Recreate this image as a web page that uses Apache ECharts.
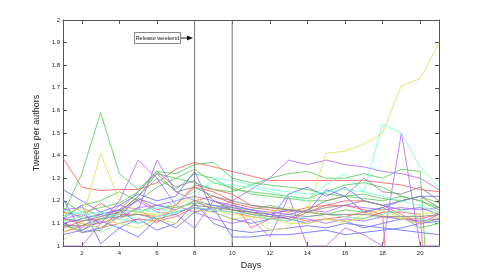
<!DOCTYPE html>
<html><head><meta charset="utf-8">
<script src="https://cdn.jsdelivr.net/npm/echarts@6/dist/echarts.min.js"></script>
<style>html,body{margin:0;padding:0;background:#fff}#c{width:485px;height:277px}</style>
</head><body><div id="c"></div>
<script>
const days = [1,2,3,4,5,6,7,8,9,10,11,12,13,14,15,16,17,18,19,20,21];
const xTicks = [2,4,6,8,10,12,14,16,18,20];
const releaseDays = [8,10];

const R1 = [1.39,1.26,1.245,1.25,1.25,1.28,1.34,1.37,1.35,1.33,1.31,1.29,1.29,1.29,1.29,1.29,1.29,1.28,1.27,1.25,1.24];
const R2 = [1.15,1.13,1.19,1.14,1.21,1.16,1.18,1.27,1.25,1.23,1.18,1.17,1.16,1.15,1.14,1.13,1.15,1.13,1.12,1.12,1.14];
const R3 = [1.06,1.09,1.10,1.13,1.17,1.10,1.18,1.26,1.24,1.20,1.08,1.12,1.11,1.15,1.18,1.20,1.20,1.18,1.14,1.10,1.12];
const R4 = [1.08,1.11,1.12,1.14,1.14,1.13,1.16,1.20,1.22,1.19,1.17,1.16,1.15,1.17,1.18,1.18,1.16,1.14,0,0,0];
const R5 = [1.12,1.10,1.08,1.10,1.12,1.11,1.13,1.17,1.16,1.15,1.13,1.12,1.13,1.11,1.12,1.13,1.12,1.15,1.15,1.14,0];
const G1 = [1.14,1.32,1.59,1.32,1.25,1.33,1.32,1.36,1.37,1.30,1.28,1.27,1.26,1.25,1.23,1.22,1.21,1.20,1.22,1.20,1.16];
const G2 = [1.13,1.18,1.20,1.24,1.20,1.26,1.30,1.34,1.28,1.26,1.23,1.22,1.21,1.20,1.20,1.22,1.23,1.21,1.20,1.22,1.19];
const G3 = [1.20,1.15,1.17,1.19,1.24,1.32,1.30,1.28,1.25,1.24,1.27,1.30,1.32,1.33,1.30,1.30,1.32,1.30,1.34,1.33,0];
const G4 = [1.17,1.12,1.14,1.16,1.15,1.18,1.17,1.19,1.18,1.17,1.16,1.18,1.16,1.15,1.14,1.16,1.15,1.17,1.13,1.08,1.10];
const G5 = [1.09,1.07,1.12,1.15,1.22,1.30,1.25,1.32,1.30,1.25,1.24,1.23,1.22,1.21,1.24,1.27,1.28,1.26,1.22,1.20,1.17];
const B1 = [1.25,1.20,1.15,1.18,1.23,1.20,1.22,1.33,1.15,1.12,1.10,1.12,1.23,1.26,1.22,1.26,1.20,1.18,1.16,1.17,1.14];
const B2 = [1.12,1.18,1.01,1.08,1.12,1.07,1.10,1.19,1.10,1.07,1.06,1.07,1.08,1.09,1.08,1.10,1.09,1.08,1.07,1.06,1.05];
const B3 = [1.21,1.06,1.08,1.13,1.21,1.18,1.16,1.20,1.18,1.16,1.15,1.14,1.12,1.10,1.12,1.11,1.08,1.10,1.12,1.11,1.12];
const B4 = [1.10,1.12,1.14,1.16,1.10,1.13,1.15,1.17,1.15,1.18,1.16,1.14,1.16,1.15,1.25,1.22,1.15,1.17,1.20,1.22,1.22];
const B5 = [1.05,1.07,1.11,1.08,1.04,1.12,1.08,1.15,1.17,1.04,1.04,1.05,1.05,1.06,1.07,1.05,1.06,1.07,1.08,1.10,1.11];
const P1 = [1.00,1.00,1.10,1.20,1.38,1.30,1.18,1.15,1.12,1.10,1.12,1.04,1.22,1.00,1.00,1.08,1.05,1.00,1.50,1.00,1.00];
const P2 = [1.12,1.14,1.10,1.18,1.16,1.38,1.24,1.20,1.16,1.20,1.25,1.30,1.38,1.36,1.38,1.36,1.35,1.33,1.32,1.30,1.25];
const P3 = [1.16,1.17,1.13,1.16,1.20,1.15,1.14,1.08,1.20,1.18,1.16,1.15,1.14,1.16,1.15,1.18,1.17,1.16,1.17,1.16,1.17];
const P4 = [1.10,1.08,1.15,1.12,1.17,1.18,1.20,1.22,1.20,1.17,1.15,1.14,1.13,1.12,1.10,1.12,1.11,1.13,1.12,1.10,1.14];
const Y1 = [1.02,1.11,1.41,1.20,1.15,1.14,1.18,1.22,1.16,1.14,1.13,1.12,1.10,1.10,1.12,1.11,1.12,1.14,1.12,1.10,1.13];
const Y2 = [1.06,1.10,1.08,1.12,1.15,1.13,1.16,1.20,1.17,1.16,1.14,1.15,1.17,1.15,1.41,1.42,1.45,1.50,1.71,1.74,1.90];
const Y3 = [1.14,1.17,1.12,1.10,1.08,1.12,1.10,1.16,1.15,1.12,1.13,1.07,1.08,1.18,1.12,1.10,1.14,1.16,1.12,1.14,1.15];
const C1 = [1.13,1.15,1.12,1.14,1.16,1.15,1.20,1.24,1.28,1.27,1.26,1.24,1.22,1.20,1.27,1.32,1.24,1.54,1.50,1.35,1.26];
const C2 = [1.11,1.13,1.06,1.10,1.15,1.17,1.14,1.22,1.30,1.29,1.27,1.25,1.24,1.23,1.24,1.25,1.24,1.22,1.20,1.18,1.15];
const C3 = [1.16,1.14,1.15,1.12,1.10,1.13,1.15,1.17,1.16,1.15,1.14,1.12,1.11,1.13,1.14,1.13,1.12,1.14,1.16,1.12,1.10];
const K1 = [1.10,1.06,1.07,1.16,1.24,1.33,1.26,1.29,1.20,1.16,1.15,1.13,1.12,1.16,1.20,1.22,1.30,1.24,1.23,1.26,1.20];
const K2 = [1.12,1.11,1.13,1.15,1.22,1.32,1.24,1.26,1.22,1.20,1.18,1.17,1.16,1.15,1.17,1.18,1.20,1.18,1.20,1.22,1.17];
const K3 = [1.09,1.09,1.12,1.13,1.14,1.12,1.14,1.18,1.17,1.16,1.14,1.13,1.14,1.13,1.14,1.14,1.14,1.13,1.13,1.13,1.14];

const groups = [
  ['#ff6262', [R1,R2,R3,R4,R5]],
  ['#5ccc5c', [G1,G2,G3,G4,G5]],
  ['#6b70ff', [B1,B2,B3,B4,B5]],
  ['#b46bff', [P1,P2,P3,P4]],
  ['#dde25a', [Y1,Y2,Y3]],
  ['#78ffd2', [C1,C2,C3]],
  ['#8a8a8a', [K1,K2,K3]]
];

const series = [];
groups.forEach(([color, arrs]) => {
  arrs.forEach(a => {
    series.push({
      type: 'line', symbol: 'none', clip: true, silent: true,
      data: days.map((d, i) => [d, a[i]]),
      lineStyle: { color: color, width: 1, opacity: 0.85 },
      z: 2
    });
  });
});
releaseDays.forEach(d => {
  series.push({
    type: 'line', symbol: 'none', silent: true,
    data: [[d, 1], [d, 2]],
    lineStyle: { color: '#777', width: 1 },
    z: 3
  });
});

const font = 'Liberation Sans, Arial, sans-serif';
const tickStyle = { inside: true, length: 4, lineStyle: { color: '#555' } };
const chart = echarts.init(document.getElementById('c'));
chart.setOption({
  animation: false,
  grid: { left: 63, right: 46, top: 20, bottom: 31 },
  xAxis: [{
    type: 'value', min: 1, max: 21, position: 'bottom',
    name: 'Days', nameLocation: 'middle', nameGap: 9,
    nameTextStyle: { fontFamily: font, fontSize: 9, color: '#222' },
    axisLine: { lineStyle: { color: '#555' } },
    axisTick: Object.assign({ customValues: xTicks }, tickStyle),
    axisLabel: { customValues: xTicks, fontFamily: font, fontSize: 6, color: '#222', margin: 4 },
    splitLine: { show: false }
  }, {
    type: 'value', min: 1, max: 21, position: 'top',
    axisLine: { lineStyle: { color: '#555' } },
    axisTick: Object.assign({ customValues: xTicks }, tickStyle),
    axisLabel: { show: false }, splitLine: { show: false }
  }],
  yAxis: [{
    type: 'value', min: 1, max: 2, interval: 0.1, position: 'left',
    name: 'Tweets per authors', nameLocation: 'middle', nameGap: 12,
    nameTextStyle: { fontFamily: font, fontSize: 9, color: '#222' },
    axisLine: { show: true, lineStyle: { color: '#555' } },
    axisTick: Object.assign({ show: true }, tickStyle),
    axisLabel: { fontFamily: font, fontSize: 6, color: '#222', margin: 3,
      formatter: v => String(Math.round(v * 10) / 10) },
    splitLine: { show: false }
  }, {
    type: 'value', min: 1, max: 2, interval: 0.1, position: 'right',
    axisLine: { show: true, lineStyle: { color: '#555' } },
    axisTick: Object.assign({ show: true }, tickStyle),
    axisLabel: { show: false }, splitLine: { show: false }
  }],
  series: series,
  graphic: [
    { type: 'rect', shape: { x: 134.5, y: 32.5, width: 46, height: 11 },
      style: { fill: '#fff', stroke: '#888', lineWidth: 1 }, z: 10 },
    { type: 'text', x: 157.5, y: 38, style: { text: 'Release weekend', fontFamily: font, fontSize: 5.5,
      fill: '#222', align: 'center', verticalAlign: 'middle' }, z: 11 },
    { type: 'line', shape: { x1: 181, y1: 38, x2: 189, y2: 38 }, style: { stroke: '#222', lineWidth: 1 }, z: 11 },
    { type: 'polygon', shape: { points: [[187, 35.5], [193, 38], [187, 40.5]] }, style: { fill: '#111' }, z: 11 }
  ]
});
</script></body></html>
